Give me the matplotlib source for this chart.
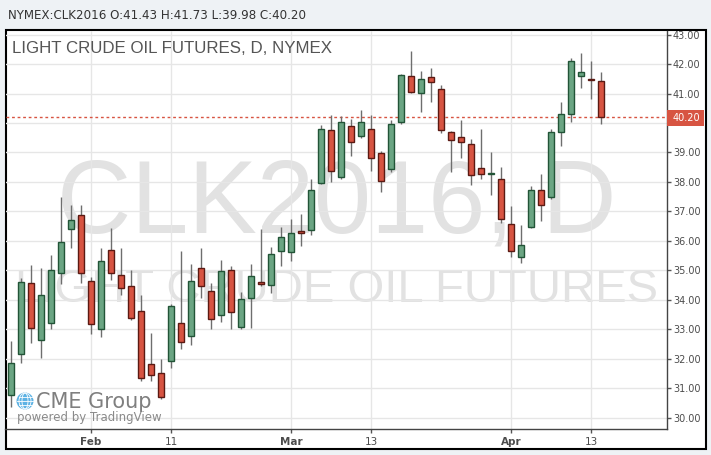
import matplotlib as mpl
import matplotlib.pyplot as plt
from matplotlib.patches import Rectangle, Ellipse
from matplotlib.lines import Line2D
import numpy as np

W, H = 711, 455

# daily OHLC, CLK2016, one bar per trading day
opens = [30.78, 32.17, 34.58, 32.64, 33.22, 34.92, 36.41, 36.86, 34.65, 32.99,
         35.70, 34.85, 34.48, 33.63, 31.83, 31.52, 31.93, 33.22, 32.78, 35.09,
         34.31, 33.49, 35.00, 33.07, 34.06, 34.59, 34.49, 35.65, 35.62, 36.34,
         36.35, 37.95, 39.75, 38.18, 39.89, 39.55, 39.79, 38.97, 38.43, 40.02,
         41.58, 41.01, 41.55, 41.14, 39.68, 39.51, 39.28, 38.46, 38.26, 38.09,
         36.56, 35.45, 36.46, 37.72, 37.48, 39.68, 40.29, 41.58, 41.49, 41.43]
highs = [32.59, 34.72, 35.19, 35.09, 35.53, 37.47, 37.23, 37.23, 34.77, 35.77,
         36.45, 35.77, 35.00, 34.15, 32.88, 32.00, 33.87, 35.64, 35.20, 35.77,
         34.58, 35.34, 35.16, 34.26, 35.22, 36.41, 35.80, 36.46, 36.75, 36.92,
         38.10, 39.93, 40.26, 40.24, 40.14, 40.44, 40.26, 39.05, 40.10, 41.66,
         42.44, 41.76, 41.86, 41.29, 39.74, 40.10, 39.46, 39.80, 39.01, 38.50,
         37.19, 36.53, 37.86, 38.27, 39.79, 40.71, 42.20, 42.37, 42.10, 41.73]
lows = [30.36, 31.86, 32.53, 32.02, 33.02, 34.55, 35.74, 34.57, 32.85, 32.73,
        34.68, 34.16, 33.30, 31.24, 31.24, 30.63, 31.69, 32.34, 32.47, 34.07,
        33.02, 33.24, 33.02, 33.01, 33.03, 34.45, 34.23, 35.16, 35.30, 35.81,
        36.18, 37.92, 38.01, 38.11, 38.88, 39.50, 38.38, 37.67, 38.35, 39.98,
        41.01, 40.38, 40.72, 39.65, 38.32, 38.82, 37.88, 38.11, 37.54, 36.62,
        35.45, 35.24, 36.42, 36.66, 37.43, 39.22, 40.05, 41.20, 40.81, 39.98]
closes = [31.86, 34.61, 33.05, 34.17, 35.02, 35.97, 36.72, 34.89, 33.19, 35.33,
          34.89, 34.41, 33.39, 31.35, 31.45, 30.71, 33.80, 32.58, 34.65, 34.48,
          33.34, 34.99, 33.57, 34.02, 34.80, 34.53, 35.55, 36.12, 36.26, 36.28,
          37.72, 39.79, 38.36, 40.02, 39.34, 40.02, 38.80, 38.02, 39.95, 41.62,
          41.06, 41.48, 41.38, 39.75, 39.41, 39.34, 38.23, 38.26, 38.29, 36.73,
          35.65, 35.85, 37.72, 37.21, 39.68, 40.29, 42.12, 41.72, 41.47, 40.20]

tick_idx = [8, 16, 28, 36, 50, 58]
tick_labels = ['Feb', '11', 'Mar', '13', 'Apr', '13']
months = ['Feb', 'Mar', 'Apr']
price_ticks = np.arange(30, 44)
last_price = 40.20

up_fill, up_edge = '#6ba583', '#225437'
dn_fill, dn_edge = '#d75442', '#5b1a13'


def fx(px):
    return px / W


def fy(py):
    return 1 - py / H


fig = plt.figure(figsize=(W / 100, H / 100), dpi=100, facecolor='#eef2f5')

# white framed panel
fig.add_artist(Rectangle((fx(5.5), fy(449)), fx(706) - fx(5.5), fy(30.5) - fy(449),
                         transform=fig.transFigure, facecolor='white',
                         edgecolor='black', lw=1.5, zorder=-1))

ax = fig.add_axes([fx(5.5), fy(429), fx(667) - fx(5.5), fy(30.5) - fy(429)])
ax.set_facecolor('none')

o = np.array(opens)
h = np.array(highs)
l = np.array(lows)
c = np.array(closes)
x = np.arange(len(o))
up = c >= o

ax.vlines(x, l, h, color='#6e6e6e', lw=1, zorder=2)
ax.bar(x, np.maximum(np.abs(c - o), 0.03), bottom=np.minimum(o, c), width=0.62,
       color=np.where(up, up_fill, dn_fill), edgecolor=np.where(up, up_edge, dn_edge),
       lw=1, zorder=3)

ax.axhline(last_price, color=dn_fill, lw=1, ls=(0, (2, 2)), zorder=1.5)

# watermark
ax.text(0.5, 0.492, 'CLK2016, D', transform=ax.transAxes, ha='center', va='baseline',
        fontsize=74, family='Liberation Sans', color='#e2e2e2', zorder=0.3)
ax.text(0.5, 0.318, 'LIGHT CRUDE OIL FUTURES', transform=ax.transAxes, ha='center',
        va='baseline', fontsize=34, family='Liberation Sans', color='#e2e2e2', zorder=0.3)

ax.set_xlim(-0.55, 65.6)
ax.set_ylim(29.61, 43.14)
ax.set_xticks(tick_idx)
ax.set_xticklabels(tick_labels)
ax.set_yticks(price_ticks)
# the 40.00 label sits under the last-price marker
ax.yaxis.set_major_formatter(mpl.ticker.FuncFormatter(
    lambda v, pos: '' if abs(v - 40) < 0.01 else '%.2f' % v))
ax.yaxis.tick_right()
ax.grid(color='#e6e6e6', lw=1)
ax.set_axisbelow(True)

ax.tick_params(axis='y', direction='out', length=3, width=1, color='#555555',
               pad=1.2, labelsize=7, labelcolor='#4c4c4c')
ax.tick_params(axis='x', direction='out', length=3, width=1, color='#555555',
               pad=2.5, labelsize=7.5, labelcolor='#4c4c4c')
for lab in ax.get_xticklabels():
    if lab.get_text() in months:
        lab.set_fontweight('bold')

for s in ['left', 'top']:
    ax.spines[s].set_visible(False)
for s in ['right', 'bottom']:
    ax.spines[s].set_color('#444444')
    ax.spines[s].set_linewidth(1)

# last price marker on the scale
fig.add_artist(Rectangle((fx(667), fy(125.7)), fx(704) - fx(667), fy(110) - fy(125.7),
                         transform=fig.transFigure, facecolor=dn_fill, edgecolor='none',
                         zorder=3))
fig.text(fx(686), fy(118), '%.2f' % last_price, ha='center', va='center',
         color='white', fontsize=7, zorder=4)

# header texts
fig.text(fx(8), fy(19), 'NYMEX:CLK2016 O:41.43 H:41.73 L:39.98 C:40.20',
         va='baseline', fontsize=8.6, color='#333333')
fig.text(fx(12), fy(53.3), 'LIGHT CRUDE OIL FUTURES, D, NYMEX', va='baseline',
         fontsize=12.2, color='#555555', family='Liberation Sans')

# logo
fig.add_artist(Ellipse((fx(25), fy(401)), 17 / W, 17 / H, transform=fig.transFigure,
                       facecolor='#5cb2e4', edgecolor='none', zorder=3))
for wdt in [6, 12]:
    fig.add_artist(Ellipse((fx(25), fy(401)), wdt / W, 16 / H, transform=fig.transFigure,
                           facecolor='none', edgecolor='white', lw=0.6, zorder=4))
for yy, half in [(397, 6.5), (401, 8.3), (405, 6.5)]:
    fig.add_artist(Line2D([fx(25 - half), fx(25 + half)], [fy(yy), fy(yy)],
                          transform=fig.transFigure, color='white', lw=0.6, zorder=4))
fig.text(fx(36), fy(407.5), 'CME Group', va='baseline', fontsize=15, color='#7f7f7f')
fig.text(fx(17), fy(421.5), 'powered by TradingView', va='baseline', fontsize=8.5,
         color='#8a8a8a')

fig.savefig('out.png', dpi=100)
